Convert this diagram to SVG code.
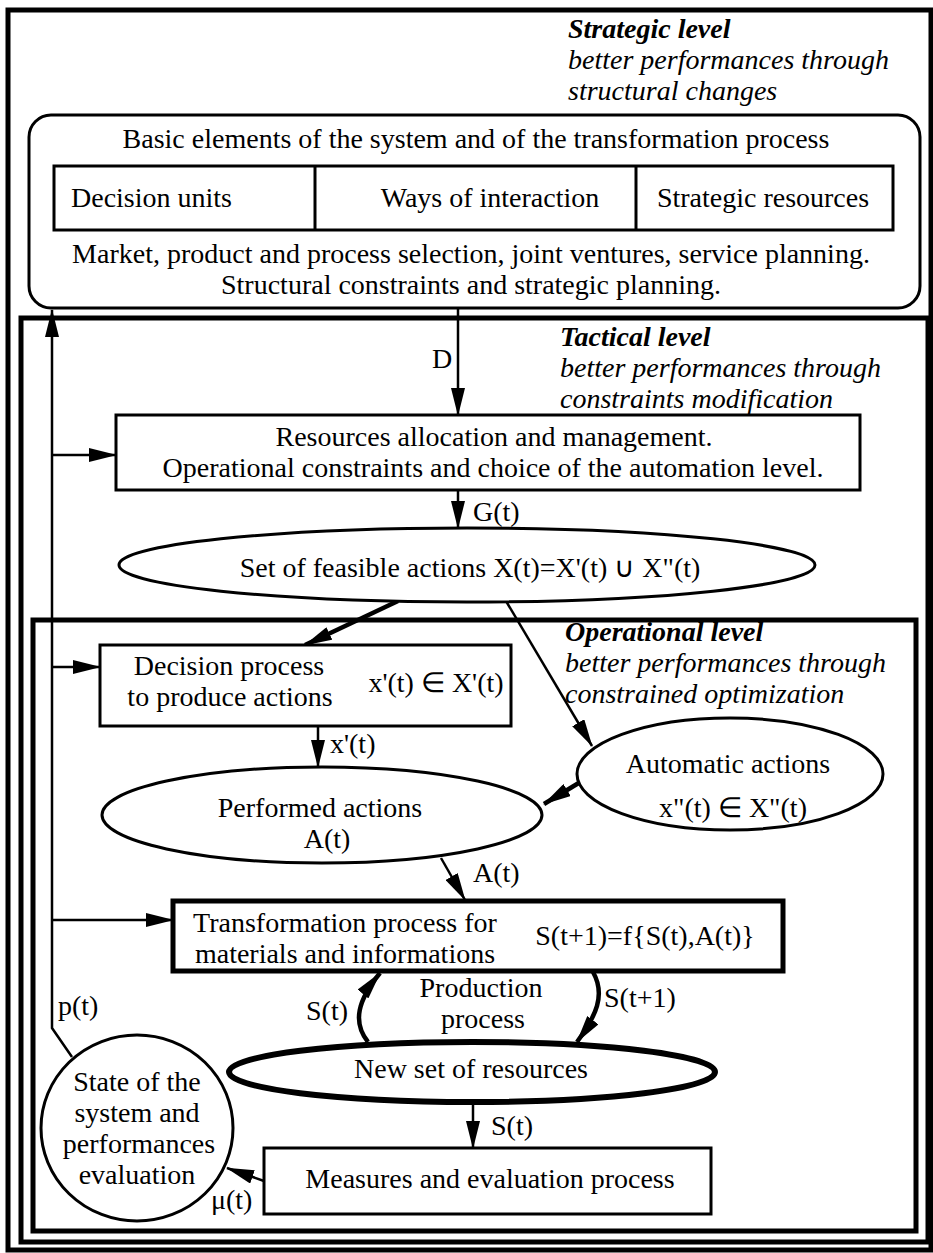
<svg xmlns="http://www.w3.org/2000/svg" width="933" height="1253" viewBox="0 0 933 1253">
<style>
text{font-family:"Liberation Serif","Times New Roman",serif;font-size:28px;fill:#000}
.c{text-anchor:middle}
.it{font-style:italic}
.bi{font-style:italic;font-weight:bold}
.frame{fill:none;stroke:#000;stroke-width:5}
.box{fill:#fff;stroke:#000;stroke-width:3}
.thick{fill:#fff;stroke:#000;stroke-width:5}
.ln{fill:none;stroke:#000;stroke-width:2.5}
.lnb{fill:none;stroke:#000;stroke-width:4.5}
</style>
<defs>
<marker id="ah" markerUnits="userSpaceOnUse" markerWidth="28" markerHeight="14" refX="27" refY="7" orient="auto">
<path d="M0,0 L28,7 L0,14 z" fill="#000"/>
</marker>
</defs>
<rect width="933" height="1253" fill="#fff"/>

<g id="frames">
<rect class="frame" x="8" y="10" width="923" height="1240"/>
<rect class="frame" x="21" y="318" width="907" height="924"/>
<rect class="frame" x="33" y="620" width="883" height="611"/>
</g>

<g id="level-labels">
<text class="bi" x="568" y="38">Strategic level</text>
<text class="it" x="568" y="69">better performances through</text>
<text class="it" x="568" y="100">structural changes</text>
<text class="bi" x="560" y="346">Tactical level</text>
<text class="it" x="560" y="377">better performances through</text>
<text class="it" x="560" y="408">constraints modification</text>
<text class="bi" x="565" y="641">Operational level</text>
<text class="it" x="565" y="672">better performances through</text>
<text class="it" x="565" y="703">constrained optimization</text>
</g>

<g id="connectors">
<path class="ln" d="M72,1057 L52,1028 L52,310" marker-end="url(#ah)"/>
<path class="ln" d="M52,455 L116,455" marker-end="url(#ah)"/>
<path class="ln" d="M52,667 L100,667" marker-end="url(#ah)"/>
<path class="ln" d="M52,920 L173,920" marker-end="url(#ah)"/>
<path class="ln" d="M458,308 L458,415" marker-end="url(#ah)"/>
<path class="ln" d="M458,490 L458,528" marker-end="url(#ah)"/>
<path class="lnb" d="M398,601 L305,645" marker-end="url(#ah)"/>
<path class="ln" d="M506,601 L592,746" marker-end="url(#ah)"/>
<path class="ln" d="M318,726 L318,767" marker-end="url(#ah)"/>
<path class="lnb" d="M582,781 L544,804" marker-end="url(#ah)"/>
<path class="ln" d="M441,858 L465,900" marker-end="url(#ah)"/>
<path class="lnb" d="M368,1042 C352,1022 358,1000 380,973" marker-end="url(#ah)"/>
<path class="lnb" d="M593,972 C606,995 596,1016 577,1042" marker-end="url(#ah)"/>
<path class="ln" d="M473,1102 L473,1148" marker-end="url(#ah)"/>
<path class="ln" d="M264,1181 L227,1168" stroke-width="3" marker-end="url(#ah)"/>
</g>

<g id="connector-labels">
<text x="432" y="368">D</text>
<text x="473" y="521">G(t)</text>
<text x="330" y="753">x'(t)</text>
<text x="473" y="882">A(t)</text>
<text x="306" y="1020">S(t)</text>
<text x="604" y="1007">S(t+1)</text>
<text x="491" y="1135">S(t)</text>
<text x="211" y="1209">μ(t)</text>
<text x="58" y="1015">p(t)</text>
<text class="c" x="481" y="997">Production</text>
<text class="c" x="483" y="1028">process</text>
</g>

<g id="strategic">
<rect class="box" x="29" y="115" width="891" height="193" rx="22"/>
<text class="c" x="476" y="148">Basic elements of the system and of the transformation process</text>
<rect class="box" x="54" y="166" width="839" height="64"/>
<line x1="315" y1="166" x2="315" y2="230" stroke="#000" stroke-width="3"/>
<line x1="636" y1="166" x2="636" y2="230" stroke="#000" stroke-width="3"/>
<text x="71" y="207">Decision units</text>
<text class="c" x="490" y="207">Ways of interaction</text>
<text class="c" x="763" y="207">Strategic resources</text>
<text class="c" x="471" y="263">Market, product and process selection, joint ventures, service planning.</text>
<text class="c" x="471" y="294">Structural constraints and strategic planning.</text>
</g>

<g id="resources">
<rect class="box" x="116" y="415" width="744" height="75"/>
<text class="c" x="494" y="446">Resources allocation and management.</text>
<text class="c" x="493" y="477">Operational constraints and choice of the automation level.</text>
</g>

<g id="feasible">
<ellipse class="box" cx="467" cy="565" rx="348" ry="37"/>
<text class="c" x="470" y="577">Set of feasible actions  X(t)=X'(t) ∪ X"(t)</text>
</g>

<g id="decision">
<rect class="box" x="100" y="645" width="411" height="81"/>
<text class="c" x="229" y="675">Decision process</text>
<text class="c" x="230" y="706">to produce actions</text>
<text class="c" x="436" y="692">x'(t) ∈ X'(t)</text>
</g>

<g id="automatic">
<ellipse class="box" cx="730" cy="774" rx="153" ry="56"/>
<text class="c" x="728" y="773">Automatic actions</text>
<text class="c" x="733" y="817">x"(t) ∈ X"(t)</text>
</g>

<g id="performed">
<ellipse class="box" cx="322" cy="815" rx="220" ry="48"/>
<text class="c" x="320" y="817">Performed actions</text>
<text class="c" x="327" y="848">A(t)</text>
</g>

<g id="transformation">
<rect class="thick" x="173" y="901" width="610" height="70"/>
<text class="c" x="345" y="932">Transformation process for</text>
<text class="c" x="345" y="963">materials and informations</text>
<text class="c" x="645" y="945">S(t+1)=f{S(t),A(t)}</text>
</g>

<g id="newset">
<ellipse cx="472" cy="1072" rx="243" ry="30" fill="#fff" stroke="#000" stroke-width="6"/>
<text class="c" x="471" y="1078">New set of resources</text>
</g>

<g id="measures">
<rect class="box" x="264" y="1148" width="447" height="66"/>
<text class="c" x="490" y="1188">Measures and evaluation process</text>
</g>

<g id="state">
<ellipse class="box" cx="137" cy="1128" rx="96" ry="93"/>
<text class="c" x="137" y="1091">State of the</text>
<text class="c" x="137" y="1122">system and</text>
<text class="c" x="139" y="1153">performances</text>
<text class="c" x="137" y="1184">evaluation</text>
</g>
</svg>
